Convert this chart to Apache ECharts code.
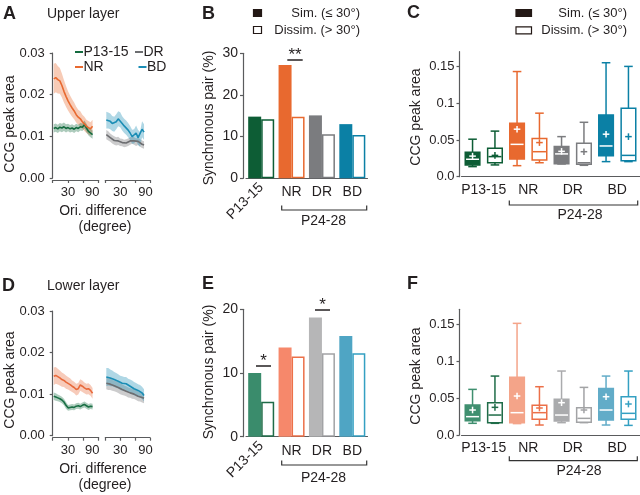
<!DOCTYPE html>
<html><head><meta charset="utf-8">
<script src="https://cdn.jsdelivr.net/npm/echarts@6/dist/echarts.min.js"></script>
<style>html,body{margin:0;padding:0;background:#fff}#c{width:640px;height:495px}</style>
</head><body><div id="c"></div>
<script>
// ---------- DATA ----------
const groups = ['P13-15', 'NR', 'DR', 'BD'];
const oriDeg = [2, 6, 10, 14, 18, 22, 26, 30, 34, 38, 42, 46, 50, 54, 58, 62, 66, 70, 74, 78];
const oriTickLabels = [30, 90];

// Panel A (upper layer) mean and s.e.m. of CCG peak area
const upP1315Mean = [0.0119, 0.0121, 0.0118, 0.0122, 0.0120, 0.0123, 0.0119, 0.0121, 0.0118, 0.0120, 0.0117, 0.0121, 0.0119, 0.0123, 0.0122, 0.0128, 0.0120, 0.0112, 0.0108, 0.0104];
const upP1315Sem  = [0.0010, 0.0010, 0.0010, 0.0010, 0.0010, 0.0010, 0.0010, 0.0009, 0.0009, 0.0009, 0.0009, 0.0009, 0.0009, 0.0009, 0.0009, 0.0010, 0.0010, 0.0010, 0.0010, 0.0010];
const upNRMean    = [0.0238, 0.0241, 0.0236, 0.0233, 0.0222, 0.0208, 0.0196, 0.0185, 0.0176, 0.0168, 0.0161, 0.0152, 0.0146, 0.0142, 0.0135, 0.0130, 0.0124, 0.0121, 0.0118, 0.0124];
const upNRSem     = [0.0036, 0.0035, 0.0033, 0.0031, 0.0029, 0.0027, 0.0025, 0.0023, 0.0022, 0.0021, 0.0020, 0.0019, 0.0018, 0.0018, 0.0017, 0.0017, 0.0016, 0.0016, 0.0016, 0.0016];
const upDRMean    = [0.0104, 0.0101, 0.0097, 0.0093, 0.0090, 0.0088, 0.0089, 0.0086, 0.0085, 0.0083, 0.0084, 0.0086, 0.0089, 0.0091, 0.0089, 0.0086, 0.0088, 0.0084, 0.0081, 0.0079];
const upDRSem     = [0.0011, 0.0011, 0.0010, 0.0010, 0.0010, 0.0010, 0.0010, 0.0009, 0.0009, 0.0009, 0.0009, 0.0009, 0.0009, 0.0009, 0.0009, 0.0009, 0.0009, 0.0009, 0.0009, 0.0009];
const upBDMean    = [0.0139, 0.0138, 0.0136, 0.0131, 0.0129, 0.0135, 0.0142, 0.0140, 0.0131, 0.0125, 0.0121, 0.0115, 0.0108, 0.0099, 0.0100, 0.0108, 0.0097, 0.0093, 0.0117, 0.0110];
const upBDSem     = [0.0020, 0.0019, 0.0019, 0.0018, 0.0018, 0.0018, 0.0018, 0.0018, 0.0017, 0.0017, 0.0017, 0.0017, 0.0017, 0.0017, 0.0017, 0.0018, 0.0018, 0.0018, 0.0019, 0.0019];

// Panel D (lower layer)
const lowP1315Mean = [0.0095, 0.0093, 0.0091, 0.0089, 0.0086, 0.0081, 0.0073, 0.0067, 0.0068, 0.0069, 0.0068, 0.0071, 0.0072, 0.0070, 0.0073, 0.0075, 0.0072, 0.0069, 0.0071, 0.0070];
const lowP1315Sem  = [0.0009, 0.0009, 0.0008, 0.0008, 0.0008, 0.0008, 0.0008, 0.0007, 0.0007, 0.0007, 0.0007, 0.0007, 0.0007, 0.0007, 0.0007, 0.0007, 0.0007, 0.0007, 0.0007, 0.0007];
const lowNRMean    = [0.0143, 0.0145, 0.0142, 0.0139, 0.0135, 0.0133, 0.0129, 0.0126, 0.0123, 0.0119, 0.0116, 0.0111, 0.0113, 0.0122, 0.0119, 0.0115, 0.0112, 0.0113, 0.0109, 0.0102];
const lowNRSem     = [0.0021, 0.0020, 0.0019, 0.0018, 0.0017, 0.0016, 0.0016, 0.0015, 0.0015, 0.0014, 0.0014, 0.0014, 0.0014, 0.0014, 0.0014, 0.0013, 0.0013, 0.0013, 0.0013, 0.0013];
const lowDRMean    = [0.0126, 0.0124, 0.0124, 0.0121, 0.0120, 0.0118, 0.0116, 0.0113, 0.0111, 0.0109, 0.0107, 0.0104, 0.0103, 0.0101, 0.0100, 0.0098, 0.0095, 0.0094, 0.0092, 0.0090];
const lowDRSem     = [0.0014, 0.0014, 0.0014, 0.0013, 0.0013, 0.0013, 0.0013, 0.0013, 0.0013, 0.0012, 0.0012, 0.0012, 0.0012, 0.0012, 0.0012, 0.0012, 0.0012, 0.0012, 0.0012, 0.0012];
const lowBDMean    = [0.0141, 0.0142, 0.0139, 0.0138, 0.0135, 0.0133, 0.0131, 0.0127, 0.0126, 0.0125, 0.0125, 0.0121, 0.0119, 0.0117, 0.0113, 0.0111, 0.0109, 0.0107, 0.0103, 0.0097];
const lowBDSem     = [0.0022, 0.0021, 0.0020, 0.0019, 0.0018, 0.0018, 0.0017, 0.0017, 0.0017, 0.0016, 0.0016, 0.0016, 0.0016, 0.0016, 0.0016, 0.0016, 0.0015, 0.0015, 0.0015, 0.0015];

// Panels B / E: synchronous pair (%)
const upSimPct  = [14.8, 27.2, 15.1, 13.0];
const upDisPct  = [14.2, 14.8, 10.6, 10.4];
const lowSimPct = [10.0, 14.0, 18.7, 15.8];
const lowDisPct = [5.5, 12.6, 13.1, 13.1];

// Panels C / F: box stats [min, q1, median, q3, max, mean]
const upSimBox = [
  [0.0137, 0.0160, 0.0237, 0.0332, 0.0510, 0.0280],
  [0.0150, 0.0240, 0.0440, 0.0727, 0.1430, 0.0646],
  [0.0173, 0.0175, 0.0310, 0.0410, 0.0545, 0.0345],
  [0.0205, 0.0286, 0.0418, 0.0840, 0.1550, 0.0578]
];
const upDisBox = [
  [0.0160, 0.0190, 0.0273, 0.0386, 0.0620, 0.0290],
  [0.0190, 0.0227, 0.0340, 0.0520, 0.0864, 0.0464],
  [0.0155, 0.0170, 0.0190, 0.0455, 0.0740, 0.0340],
  [0.0205, 0.0218, 0.0290, 0.0930, 0.1500, 0.0545]
];
const lowSimBox = [
  [0.0158, 0.0194, 0.0248, 0.0405, 0.0617, 0.0338],
  [0.0154, 0.0167, 0.0302, 0.0780, 0.1510, 0.0527],
  [0.0167, 0.0189, 0.0270, 0.0482, 0.0865, 0.0437],
  [0.0135, 0.0203, 0.0338, 0.0630, 0.0797, 0.0518]
];
const lowDisBox = [
  [0.0158, 0.0167, 0.0270, 0.0437, 0.0797, 0.0374],
  [0.0135, 0.0212, 0.0302, 0.0401, 0.0653, 0.0365],
  [0.0167, 0.0171, 0.0225, 0.0369, 0.0644, 0.0338],
  [0.0130, 0.0212, 0.0293, 0.0518, 0.0865, 0.0419]
];

// ---------- STYLE ----------
const FONT = '"Liberation Sans", Arial, Helvetica, sans-serif';
const TXT = '#231f20';
const AX = '#5a5b5d';
const upCol = ['#0d5d35', '#e8692f', '#7b7c7f', '#0b80a5'];
const lowCol = ['#3a8c6c', '#f6886b', '#b6b6b7', '#4fa5c4'];
const lowDisCol = ['#1f6c48', '#ec7049', '#a2a3a5', '#34a0c2'];
const lowBoxFill = ['#3f8f6f', '#f4a489', '#aaabad', '#62acc8'];
const lineCol = { P: '#146b3f', NR: '#e8692f', DR: '#6d6e71', BD: '#1a8db5' };
const lowLineCol = { P: '#1a6f45', NR: '#e8693a', DR: '#6d6e71', BD: '#1a8db5' };

function hexA(h, a) {
  const n = parseInt(h.slice(1), 16);
  return 'rgba(' + (n >> 16 & 255) + ',' + (n >> 8 & 255) + ',' + (n & 255) + ',' + a + ')';
}

// ---------- GRIDS ----------
const grids = [
  { left: 52.7, top: 53, width: 46, height: 125 },      // 0 A1
  { left: 105.3, top: 53, width: 44.7, height: 125 },   // 1 A2
  { left: 246, top: 53.3, width: 121.5, height: 125 },  // 2 B
  { left: 246, top: 53.3, width: 121.5, height: 125 },  // 3 B rotated label
  { left: 461.5, top: 51.7, width: 178, height: 125 },  // 4 C
  { left: 52.7, top: 311, width: 46, height: 124.7 },   // 5 D1
  { left: 105.3, top: 311, width: 44.7, height: 124.7 },// 6 D2
  { left: 246, top: 309.3, width: 121.5, height: 127.4 },// 7 E
  { left: 246, top: 309.3, width: 121.5, height: 127.4 },// 8 E rotated label
  { left: 461.5, top: 309.3, width: 178, height: 125.7 } // 9 F
].map(g => Object.assign({ outerBoundsMode: 'none', containLabel: false }, g));

const lineS = { color: AX, width: 1.2 };
function oriX(gi, seg) {
  return {
    type: 'value', gridIndex: gi, min: 0, max: 90, interval: 30, offset: 2,
    axisLine: { show: true, onZero: false, lineStyle: lineS },
    axisTick: { show: true, length: 3, lineStyle: lineS },
    splitLine: { show: false },
    axisLabel: {
      fontSize: 13, color: TXT, fontFamily: FONT, margin: 6,
      formatter: v => {
        if (oriTickLabels.indexOf(v) < 0) return '';
        if (v === 90) return '{r|' + v + '}';
        return String(v);
      },
      rich: { r: { fontSize: 13, color: TXT, fontFamily: FONT, padding: [0, seg === 1 ? 13 : 9, 0, 0] } }
    }
  };
}
function ccgY(gi, show) {
  return {
    type: 'value', gridIndex: gi, min: 0, max: 0.03, interval: 0.01, offset: 3, show,
    axisLine: { show: true, lineStyle: lineS },
    axisTick: { show: true, length: 3, lineStyle: lineS },
    splitLine: { show: false },
    axisLabel: { fontSize: 13, color: TXT, fontFamily: FONT, margin: 5, formatter: v => v.toFixed(2) }
  };
}
function pctY(gi, max, show) {
  return {
    type: 'value', gridIndex: gi, min: 0, max, interval: 10, offset: 3, show,
    axisLine: { show: true, lineStyle: lineS },
    axisTick: { show: true, length: 3, lineStyle: lineS },
    splitLine: { show: false },
    axisLabel: { fontSize: 14, color: TXT, fontFamily: FONT, margin: 5 }
  };
}
function catX(gi, mode) {
  return {
    type: 'category', gridIndex: gi, data: groups,
    axisLine: { show: mode !== 'rot', onZero: false, lineStyle: lineS },
    axisTick: { show: false },
    splitLine: { show: false },
    axisLabel: {
      interval: 0, fontSize: 14, color: TXT, fontFamily: FONT,
      margin: mode === 'box' ? 6 : 7,
      rotate: mode === 'rot' ? 45 : 0,
      formatter: v => mode === 'rot' ? (v === 'P13-15' ? v : '') : (mode === 'bar' && v === 'P13-15' ? '' : v)
    }
  };
}
const boxTicks = [0, 0.05, 0.1, 0.15];
function boxY(gi) {
  return {
    type: 'value', gridIndex: gi, min: 0, max: 0.17, offset: 2,
    axisLine: { show: true, lineStyle: lineS },
    axisTick: { show: true, length: 3, lineStyle: lineS, customValues: boxTicks },
    splitLine: { show: false },
    axisLabel: { fontSize: 13, color: TXT, fontFamily: FONT, margin: 5, customValues: boxTicks,
      formatter: v => v === 0 ? '0.0' : String(v) }
  };
}

const xAxes = [oriX(0, 1), oriX(1, 2), catX(2, 'bar'), catX(3, 'rot'), catX(4, 'box'),
               oriX(5, 1), oriX(6, 2), catX(7, 'bar'), catX(8, 'rot'), catX(9, 'box')];
const yAxes = [ccgY(0, true), ccgY(1, false), pctY(2, 30, true), pctY(3, 30, false), boxY(4),
               ccgY(5, true), ccgY(6, false), pctY(7, 20, true), pctY(8, 20, false), boxY(9)];

// ---------- SERIES ----------
const series = [];
function band(ai, mean, sem, col) {
  series.push({
    type: 'custom', xAxisIndex: ai, yAxisIndex: ai, silent: true, z: 1,
    data: oriDeg.map((x, i) => [x, mean[i] - sem[i], mean[i] + sem[i]]),
    encode: { x: 0, y: [1, 2] },
    renderItem: function (params, api) {
      if (params.dataIndex !== 0) return null;
      const up = [], lo = [];
      for (let i = 0; i < oriDeg.length; i++) {
        up.push(api.coord([oriDeg[i], mean[i] + sem[i]]));
        lo.push(api.coord([oriDeg[i], mean[i] - sem[i]]));
      }
      return { type: 'polygon', shape: { points: up.concat(lo.reverse()) }, style: { fill: hexA(col, 0.35) } };
    }
  });
}
function meanLine(ai, mean, col, name) {
  series.push({ type: 'line', name, xAxisIndex: ai, yAxisIndex: ai, symbol: 'none', silent: true,
    lineStyle: { color: col, width: 1.6 }, data: oriDeg.map((x, i) => [x, mean[i]]), z: 3 });
}
band(0, upNRMean, upNRSem, lineCol.NR);
band(0, upP1315Mean, upP1315Sem, lineCol.P);
meanLine(0, upP1315Mean, lineCol.P, 'P13-15');
meanLine(0, upNRMean, lineCol.NR, 'NR');
band(1, upDRMean, upDRSem, lineCol.DR);
band(1, upBDMean, upBDSem, lineCol.BD);
meanLine(1, upDRMean, lineCol.DR, 'DR');
meanLine(1, upBDMean, lineCol.BD, 'BD');

band(5, lowNRMean, lowNRSem, lowLineCol.NR);
band(5, lowP1315Mean, lowP1315Sem, lowLineCol.P);
meanLine(5, lowP1315Mean, lowLineCol.P, 'P13-15');
meanLine(5, lowNRMean, lowLineCol.NR, 'NR');
band(6, lowDRMean, lowDRSem, lowLineCol.DR);
band(6, lowBDMean, lowBDSem, lowLineCol.BD);
meanLine(6, lowDRMean, lowLineCol.DR, 'DR');
meanLine(6, lowBDMean, lowLineCol.BD, 'BD');

function bars(ai, sim, dis, colFill, colLine) {
  series.push({ type: 'bar', name: 'Sim.', xAxisIndex: ai, yAxisIndex: ai, barWidth: 13, barGap: '0%', silent: true,
    data: sim.map((v, i) => ({ value: v, itemStyle: { color: colFill[i] } })) });
  series.push({ type: 'bar', name: 'Dissim.', xAxisIndex: ai, yAxisIndex: ai, barWidth: 13, barGap: '0%', silent: true,
    data: dis.map((v, i) => ({ value: v, itemStyle: { color: '#ffffff', borderColor: colLine[i], borderWidth: 1.5 } })) });
}
bars(2, upSimPct, upDisPct, upCol, upCol);
bars(7, lowSimPct, lowDisPct, lowCol, lowDisCol);

function boxes(ai, stats, offset, fillCols, lineCols, filled) {
  series.push({
    type: 'custom', xAxisIndex: ai, yAxisIndex: ai, silent: true, clip: false,
    data: stats.map((s, i) => [i].concat(s)),
    encode: { x: 0, y: [1, 2, 3, 4, 5, 6] },
    renderItem: function (params, api) {
      const i = api.value(0);
      const c = lineCols[params.dataIndex];
      const f = fillCols[params.dataIndex];
      const pMin = api.coord([i, api.value(1)]);
      const pQ1 = api.coord([i, api.value(2)]);
      const pMed = api.coord([i, api.value(3)]);
      const pQ3 = api.coord([i, api.value(4)]);
      const pMax = api.coord([i, api.value(5)]);
      const pMean = api.coord([i, api.value(6)]);
      const x = pMin[0] + offset, hw = 7.3, cap = 4.3, pl = 3.3, lw = 1.5;
      const inner = filled ? '#ffffff' : c;
      const L = (x1, y1, x2, y2, col) => ({ type: 'line', shape: { x1, y1, x2, y2 }, style: { stroke: col, lineWidth: lw } });
      return {
        type: 'group', children: [
          L(x, pQ3[1], x, pMax[1], c), L(x - cap, pMax[1], x + cap, pMax[1], c),
          L(x, pQ1[1], x, pMin[1], c), L(x - cap, pMin[1], x + cap, pMin[1], c),
          { type: 'rect', shape: { x: x - hw, y: pQ3[1], width: 2 * hw, height: pQ1[1] - pQ3[1] },
            style: { fill: filled ? f : '#ffffff', stroke: filled ? f : c, lineWidth: lw } },
          L(x - hw + 0.8, pMed[1], x + hw - 0.8, pMed[1], inner),
          L(x - pl, pMean[1], x + pl, pMean[1], inner), L(x, pMean[1] - pl, x, pMean[1] + pl, inner)
        ]
      };
    }
  });
}
boxes(4, upSimBox, -11.2, upCol, upCol, true);
boxes(4, upDisBox, 11.2, upCol, upCol, false);
boxes(9, lowSimBox, -11.2, lowBoxFill, lowBoxFill, true);
boxes(9, lowDisBox, 11.2, lowDisCol, lowDisCol, false);

// ---------- GRAPHIC ----------
const G = [];
function txt(t, x, y, o) {
  o = o || {};
  G.push({ type: 'text', x, y, rotation: o.rot || 0, silent: true, z: 10,
    style: { text: t, x: 0, y: 0, fill: o.color || TXT, fontSize: o.size || 14, fontFamily: FONT,
      fontWeight: o.bold ? 'bold' : 'normal', align: o.align || 'left', verticalAlign: o.va || 'middle' } });
}
function pl(points, col, w) {
  G.push({ type: 'polyline', silent: true, z: 10, shape: { points }, style: { stroke: col || TXT, lineWidth: w || 1.2, fill: null } });
}
function rc(x, y, w, h, fill, stroke) {
  G.push({ type: 'rect', silent: true, z: 10, shape: { x, y, width: w, height: h }, style: { fill, stroke: stroke || fill, lineWidth: 1.2 } });
}
// panel letters and titles
txt('A', 3, 14, { size: 18, bold: true });
txt('Upper layer', 47, 14, { size: 14 });
txt('B', 202, 14, { size: 18, bold: true });
txt('C', 407, 13, { size: 18, bold: true });
txt('D', 2, 286, { size: 18, bold: true });
txt('Lower layer', 47, 286, { size: 14 });
txt('E', 202, 284, { size: 18, bold: true });
txt('F', 407, 284, { size: 18, bold: true });
// y titles
const R = Math.PI / 2;
txt('CCG peak area', 10, 124, { rot: R, align: 'center' });
txt('CCG peak area', 10, 380, { rot: R, align: 'center' });
txt('Synchronous pair (%)', 209, 118, { rot: R, align: 'center' });
txt('Synchronous pair (%)', 209, 372, { rot: R, align: 'center' });
txt('CCG peak area', 416, 117, { rot: R, align: 'center' });
txt('CCG peak area', 416, 376, { rot: R, align: 'center' });
// x titles A / D
txt('Ori. difference', 103, 211, { align: 'center' });
txt('(degree)', 105, 227, { align: 'center' });
txt('Ori. difference', 103, 469, { align: 'center' });
txt('(degree)', 105, 485, { align: 'center' });
// legend A
[['P13-15', 75, 52, lineCol.P], ['DR', 135, 52, lineCol.DR], ['NR', 75, 67, lineCol.NR], ['BD', 138.5, 67, lineCol.BD]].forEach(it => {
  pl([[it[1], it[2]], [it[1] + 8, it[2]]], it[3], 2);
  txt(it[0], it[1] + 8.5, it[2], { size: 14 });
});
// legend B
rc(253.5, 9.5, 8, 7, '#231815');
rc(253.5, 26.5, 8, 7, '#ffffff', '#231815');
txt('Sim. (\u2264 30\u00b0)', 360, 13, { size: 13, align: 'right' });
txt('Dissim. (> 30\u00b0)', 360, 30, { size: 13, align: 'right' });
// legend C
rc(516, 9.5, 15.5, 7, '#231815');
rc(516, 26.8, 15.5, 7, '#ffffff', '#231815');
txt('Sim. (\u2264 30\u00b0)', 627, 13, { size: 13, align: 'right' });
txt('Dissim. (> 30\u00b0)', 627, 30, { size: 13, align: 'right' });
// brackets P24-28
function bracket(x1, x2, y, ty, cx) {
  pl([[x1, y - 4.5], [x1, y], [x2, y], [x2, y - 4.5]], '#333', 1.2);
  txt('P24-28', cx, ty, { size: 14, align: 'center' });
}
bracket(281.7, 366.7, 210, 221, 323.5);
bracket(509.3, 637.7, 205, 215, 580);
bracket(281.7, 366.7, 465, 478, 323.5);
bracket(509.3, 637.3, 460.7, 471, 579);
// significance
pl([[287.3, 60], [302.7, 60]], TXT, 1.5);
txt('**', 295, 55, { size: 17, align: 'center' });
pl([[256, 366], [271, 366]], TXT, 1.5);
txt('*', 263.5, 361, { size: 17, align: 'center' });
pl([[315, 310], [330, 310]], TXT, 1.5);
txt('*', 322.5, 305, { size: 17, align: 'center' });

const chart = echarts.init(document.getElementById('c'), null, { renderer: 'canvas' });
chart.setOption({
  backgroundColor: '#ffffff',
  animation: false,
  textStyle: { fontFamily: FONT, color: TXT },
  grid: grids,
  xAxis: xAxes,
  yAxis: yAxes,
  series,
  graphic: G
});
</script>
</body></html>
